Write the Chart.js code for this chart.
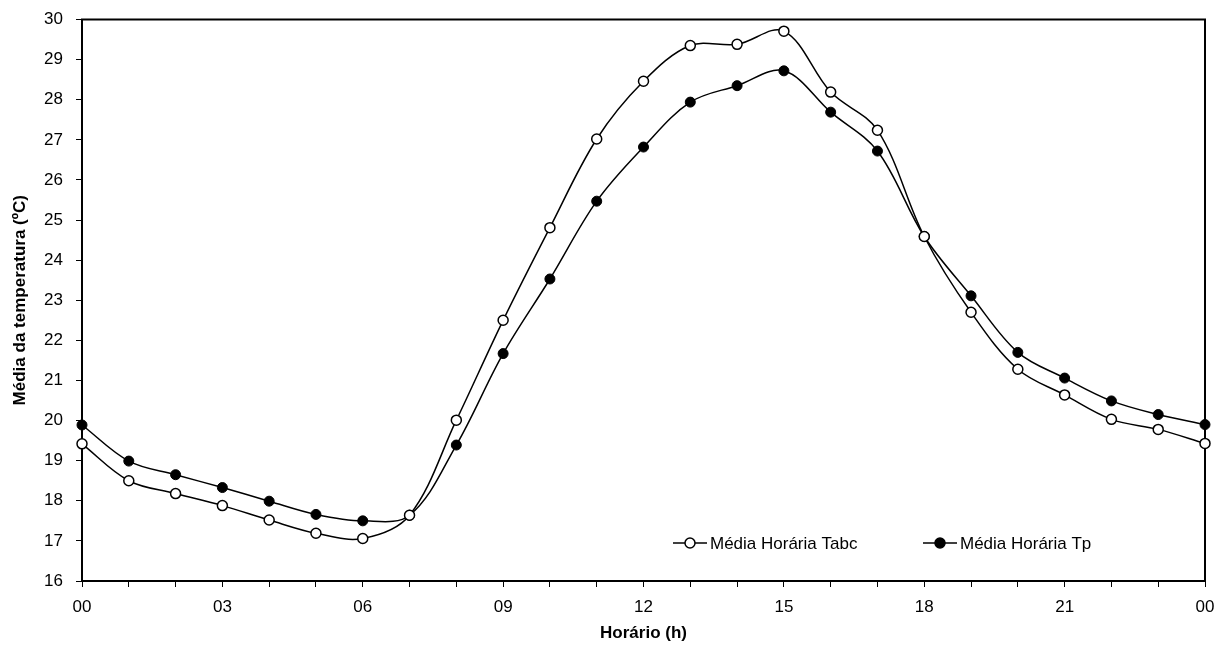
<!DOCTYPE html>
<html>
<head>
<meta charset="utf-8">
<script src="https://cdn.jsdelivr.net/npm/chart.js@4.4.0/dist/chart.umd.min.js"></script>
<style>
  html, body { margin: 0; padding: 0; background: #fff; }
  #wrap { width: 1217px; height: 651px; position: relative; }
</style>
</head>
<body>
<div id="wrap"><canvas id="chart"></canvas></div>
<script>
const hours = ["00", "01", "02", "03", "04", "05", "06", "07", "08", "09", "10", "11",
               "12", "13", "14", "15", "16", "17", "18", "19", "20", "21", "22", "23", "00"];

const tabc = [19.42, 18.50, 18.18, 17.88, 17.52, 17.19, 17.06, 17.64, 20.01, 22.50, 24.81, 27.02,
              28.46, 29.35, 29.38, 29.71, 28.19, 27.24, 24.59, 22.70, 21.28, 20.64, 20.03, 19.78, 19.43];

const tp   = [19.89, 18.99, 18.65, 18.33, 17.99, 17.66, 17.50, 17.64, 19.39, 21.67, 23.53, 25.47,
              26.82, 27.94, 28.35, 28.72, 27.69, 26.72, 24.59, 23.11, 21.70, 21.06, 20.49, 20.15, 19.90];

const seriesNames = ["Média Horária Tabc", "Média Horária Tp"];
const yTitle = "Média da temperatura (ºC)";
const xTitle = "Horário (h)";

Chart.defaults.font.family = "'Liberation Sans', Arial, sans-serif";
Chart.defaults.color = "#000";

// frame round the plot area (top and right sides too)
const frame = {
  id: "frame",
  beforeDatasetsDraw(chart) {
    const { ctx, chartArea: a } = chart;
    ctx.save();
    ctx.strokeStyle = "#000";
    ctx.lineWidth = 2;
    ctx.strokeRect(a.left, a.top, a.right - a.left, a.bottom - a.top);
    ctx.restore();
  }
};

// legend inside the plot, bottom right
const innerLegend = {
  id: "innerLegend",
  afterDraw(chart) {
    const { ctx, chartArea: a } = chart;
    const y = a.bottom - 38;
    const items = [
      { x: a.left + 591, fill: "#fff", name: seriesNames[0] },
      { x: a.left + 841, fill: "#000", name: seriesNames[1] }
    ];
    ctx.save();
    ctx.font = "17px 'Liberation Sans', Arial, sans-serif";
    ctx.textBaseline = "middle";
    ctx.textAlign = "left";
    items.forEach(it => {
      ctx.strokeStyle = "#000";
      ctx.lineWidth = 1.5;
      ctx.beginPath();
      ctx.moveTo(it.x, y);
      ctx.lineTo(it.x + 34, y);
      ctx.stroke();
      ctx.beginPath();
      ctx.arc(it.x + 17, y, 5, 0, Math.PI * 2);
      ctx.fillStyle = it.fill;
      ctx.fill();
      ctx.stroke();
      ctx.fillStyle = "#000";
      ctx.fillText(it.name, it.x + 37, y + 1);
    });
    ctx.restore();
  }
};

new Chart(document.getElementById("chart"), {
  type: "line",
  data: {
    labels: hours,
    datasets: [
      {
        label: seriesNames[0],
        data: tabc,
        borderColor: "#000",
        borderWidth: 1.5,
        pointRadius: 5,
        pointBorderWidth: 1.5,
        pointBackgroundColor: "#fff",
        pointBorderColor: "#000",
        tension: 0.35,
        clip: false
      },
      {
        label: seriesNames[1],
        data: tp,
        borderColor: "#000",
        borderWidth: 1.5,
        pointRadius: 5,
        pointBorderWidth: 1,
        pointBackgroundColor: "#000",
        pointBorderColor: "#000",
        tension: 0.35,
        clip: false
      }
    ]
  },
  options: {
    responsive: true,
    maintainAspectRatio: false,
    animation: false,
    layout: { padding: { top: 19.5, right: 12, left: 0, bottom: 0 } },
    plugins: {
      legend: { display: false },
      tooltip: { enabled: false }
    },
    scales: {
      x: {
        type: "category",
        offset: false,
        afterFit: s => { s.height = 70; s.paddingLeft = 0; s.paddingRight = 0; },
        border: { display: true, color: "#000", width: 2 },
        grid: { drawOnChartArea: false, drawTicks: true, tickLength: 6, color: "#000", lineWidth: 1 },
        ticks: {
          autoSkip: false,
          maxRotation: 0,
          padding: 10,
          font: { size: 17 },
          callback: (v, i) => (i % 3 === 0 ? hours[i] : "")
        },
        title: {
          display: true,
          text: xTitle,
          font: { size: 17, weight: "bold" },
          padding: { top: 0, bottom: 7 }
        }
      },
      y: {
        min: 16,
        max: 30,
        afterFit: s => { s.width = 82; s.paddingTop = 0; s.paddingBottom = 0; },
        border: { display: true, color: "#000", width: 2 },
        grid: { drawOnChartArea: false, drawTicks: true, tickLength: 6, color: "#000", lineWidth: 1 },
        ticks: {
          stepSize: 1,
          padding: 13,
          font: { size: 17 }
        },
        title: {
          display: true,
          text: yTitle,
          font: { size: 17, weight: "bold" },
          padding: { top: 10, bottom: 0 }
        }
      }
    }
  },
  plugins: [frame, innerLegend]
});
</script>
</body>
</html>
